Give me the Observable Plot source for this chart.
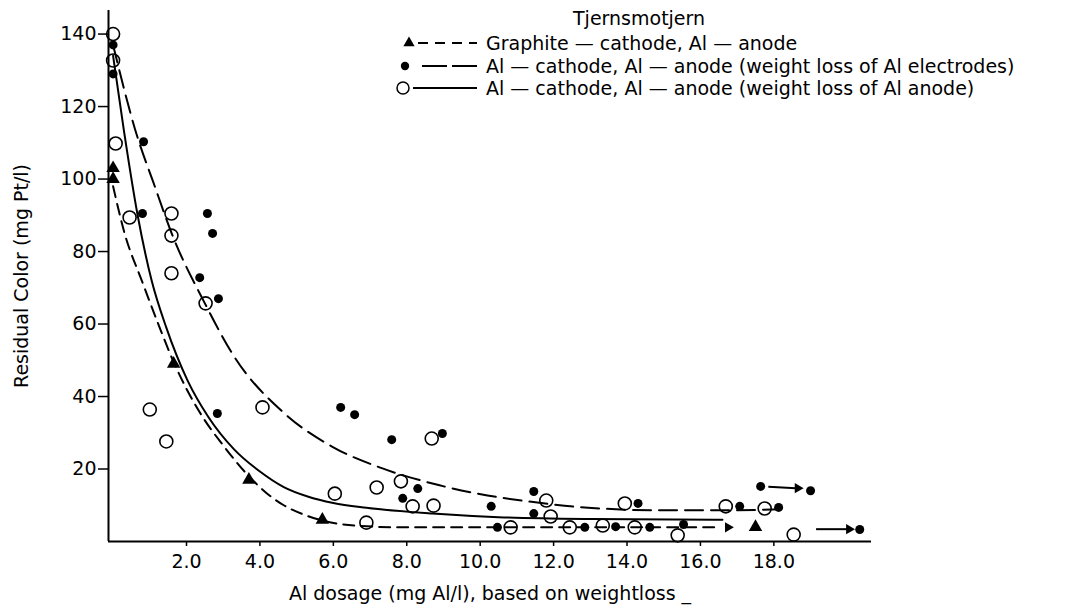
<!DOCTYPE html>
<html><head><meta charset="utf-8">
<script src="https://cdn.jsdelivr.net/npm/d3@7"></script>
<script src="https://cdn.jsdelivr.net/npm/@observablehq/plot@0.6"></script>
<style>
body{margin:0;background:#fff;}
#wrap{position:relative;width:1079px;height:610px;font-family:"DejaVu Sans",sans-serif;background:#fff;}
#legend{position:absolute;left:0;top:0;pointer-events:none;}
</style></head><body><div id="wrap"></div>
<script>
// ---- axis ticks ----
const xTicks = [2, 4, 6, 8, 10, 12, 14, 16, 18];
const yTicks = [20, 40, 60, 80, 100, 120, 140];
const xDomain = [-0.125, 20.66];
const yDomain = [0, 146.5];

// ---- series: Graphite cathode, Al anode (triangles) ----
const triDose  = [0, 0, 1.65, 3.7, 5.7, 17.5];
const triColor = [103, 100, 49, 17, 6, 4];

// ---- series: Al cathode, Al anode, weight loss of Al electrodes (filled) ----
const filledDose  = [0, 0, 0.83, 0.8, 2.57, 2.71, 2.36, 2.87, 2.84, 6.2, 6.58, 7.59, 8.97, 8.3, 7.89, 10.3, 10.47, 11.46, 11.46, 12.85, 13.69, 14.3, 14.62, 15.54, 17.07, 17.64, 18.13, 19.0, 20.34];
const filledColor = [137, 129, 110.3, 90.5, 90.5, 85, 72.8, 67, 35.3, 37, 35, 28.1, 29.8, 14.6, 11.9, 9.7, 3.9, 13.8, 7.7, 3.9, 4.1, 10.5, 3.9, 4.7, 9.7, 15.2, 9.4, 14, 3.3];

// ---- series: Al cathode, Al anode, weight loss of Al anode (open) ----
const openDose  = [0, 0, 0.07, 0.45, 1.59, 1.59, 1.59, 2.52, 1.0, 1.45, 4.07, 6.04, 6.9, 7.18, 7.84, 8.16, 8.73, 8.68, 10.83, 11.8, 11.92, 12.44, 13.34, 13.94, 14.21, 15.38, 16.69, 17.75, 18.54];
const openColor = [140, 132.7, 109.8, 89.4, 90.5, 84.4, 74, 65.7, 36.4, 27.6, 37, 13.2, 5.2, 14.9, 16.6, 9.7, 9.9, 28.4, 3.9, 11.3, 6.9, 3.9, 4.4, 10.5, 3.9, 1.7, 9.7, 9.1, 1.9];

// ---- fitted curves ----
const graphiteFitDose  = [0, 0.3, 0.8, 1.25, 1.65, 2.4, 3.0, 3.7, 4.2, 4.65, 5.2, 5.7, 6.7, 8, 16.55];
const graphiteFitColor = [98, 85.5, 71.5, 59.5, 49.5, 35, 26.5, 18, 13.2, 10, 7.4, 5.8, 4.3, 3.9, 3.9];
const electrodesFitDose  = [0, 0.65, 1.1, 1.62, 2.5, 3.3, 4.65, 6.0, 7.3, 8.7, 10.2, 11.2, 12.7, 15, 16.7, 18.4];
const electrodesFitColor = [137, 112, 99, 84.4, 65.7, 51, 35.5, 26, 20.3, 16, 12.7, 11.2, 9.5, 8.6, 8.6, 9];
const anodeFitDose  = [0, 0.3, 0.66, 1.05, 1.45, 2.03, 2.6, 3.29, 4.0, 4.65, 5.3, 6.0, 6.9, 8.7, 10.5, 13, 16.6];
const anodeFitColor = [134, 113, 90.5, 72, 59, 44.4, 34.3, 25.5, 19.3, 15, 12.4, 10.6, 9.3, 7.7, 6.7, 6.2, 6.0];

// ---- arrows (values beyond) ----
const arrowFromDose  = [17.85, 19.15];
const arrowToDose    = [18.6, 20.0];
const arrowFromColor = [15.1, 3.4];
const arrowToColor   = [14.7, 3.4];
const headDose  = [18.65, 20.05, 16.75];
const headColor = [14.7, 3.4, 3.9];

const labels = {
  x: "Al dosage (mg Al/l), based on weightloss _",
  y: "Residual Color (mg Pt/l)",
  title: "Tjernsmotjern",
  series: ["Graphite — cathode, Al — anode",
           "Al — cathode, Al — anode (weight loss of Al electrodes)",
           "Al — cathode, Al — anode (weight loss of Al anode)"]
};

const pts = (xs, ys) => xs.map((x, i) => ({x, y: ys[i]}));
const tri = pts(triDose, triColor);
const filled = pts(filledDose, filledColor);
const open = pts(openDose, openColor);
const gFit = pts(graphiteFitDose, graphiteFitColor);
const eFit = pts(electrodesFitDose, electrodesFitColor);
const aFit = pts(anodeFitDose, anodeFitColor);
const arrows = arrowFromDose.map((d, i) => ({x1: d, x2: arrowToDose[i], y1: arrowFromColor[i], y2: arrowToColor[i]}));
const heads = pts(headDose, headColor);

const chart = Plot.plot({
  width: 1079, height: 610,
  marginLeft: 108, marginRight: 208, marginTop: 10, marginBottom: 69,
  style: {fontFamily: "DejaVu Sans", fontSize: "19px", color: "black", background: "white"},
  x: {domain: xDomain},
  y: {domain: yDomain},
  marks: [
    Plot.ruleX([xDomain[0]], {stroke: "black", strokeWidth: 2}),
    Plot.ruleY([yDomain[0]], {stroke: "black", strokeWidth: 2}),
    Plot.axisY(yTicks, {tickSize: 10, tickPadding: 2, strokeWidth: 1.5, label: labels.y, labelAnchor: "center", labelOffset: 94, labelArrow: "none"}),
    Plot.axisX(xTicks, {tickSize: 5, tickPadding: 8, strokeWidth: 1.5, tickFormat: d3.format(".1f"), label: labels.x, labelAnchor: "center", labelOffset: 58, labelArrow: "none"}),
    Plot.line(gFit, {x: "x", y: "y", curve: "monotone-x", stroke: "black", strokeWidth: 2, strokeDasharray: "11,7"}),
    Plot.line(eFit, {x: "x", y: "y", curve: "monotone-x", stroke: "black", strokeWidth: 2, strokeDasharray: "18,8"}),
    Plot.line(aFit, {x: "x", y: "y", curve: "monotone-x", stroke: "black", strokeWidth: 2}),
    Plot.link(arrows, {x1: "x1", y1: "y1", x2: "x2", y2: "y2", stroke: "black", strokeWidth: 2}),
    Plot.dot(heads, {x: "x", y: "y", symbol: "triangle", rotate: 90, r: 3.8, fill: "black", stroke: "none"}),
    Plot.dot(tri, {x: "x", y: "y", symbol: "triangle", r: 5, fill: "black", stroke: "none"}),
    Plot.dot(filled, {x: "x", y: "y", r: 4.5, fill: "black", stroke: "none"}),
    Plot.dot(open, {x: "x", y: "y", r: 6.5, fill: "none", stroke: "black", strokeWidth: 1.6})
  ]
});
const wrap = document.getElementById("wrap");
wrap.appendChild(chart);

// ---- legend overlay ----
const lg = d3.select(wrap).append("svg").attr("id", "legend").attr("width", 1079).attr("height", 110)
  .style("font-family", "DejaVu Sans").style("font-size", "19px");
lg.append("text").attr("x", 573).attr("y", 25).text(labels.title);
const rowY = [43, 66, 88];
const dashes = ["10,7", "25,5", null];
const lineStart = [418, 422, 413];
rowY.forEach((cy, i) => {
  const l = lg.append("line").attr("x1", lineStart[i]).attr("x2", 477).attr("y1", cy).attr("y2", cy)
    .attr("stroke", "black").attr("stroke-width", 2);
  if (dashes[i]) l.attr("stroke-dasharray", dashes[i]);
  lg.append("text").attr("x", 486).attr("y", cy + 7).text(labels.series[i]);
});
lg.append("path").attr("d", d3.symbol(d3.symbolTriangle, 55)()).attr("transform", `translate(409,${rowY[0]})`).attr("fill", "black");
lg.append("circle").attr("cx", 405).attr("cy", rowY[1]).attr("r", 4.2).attr("fill", "black");
lg.append("circle").attr("cx", 403).attr("cy", rowY[2]).attr("r", 6).attr("fill", "none").attr("stroke", "black").attr("stroke-width", 1.5);
</script>
</body></html>
